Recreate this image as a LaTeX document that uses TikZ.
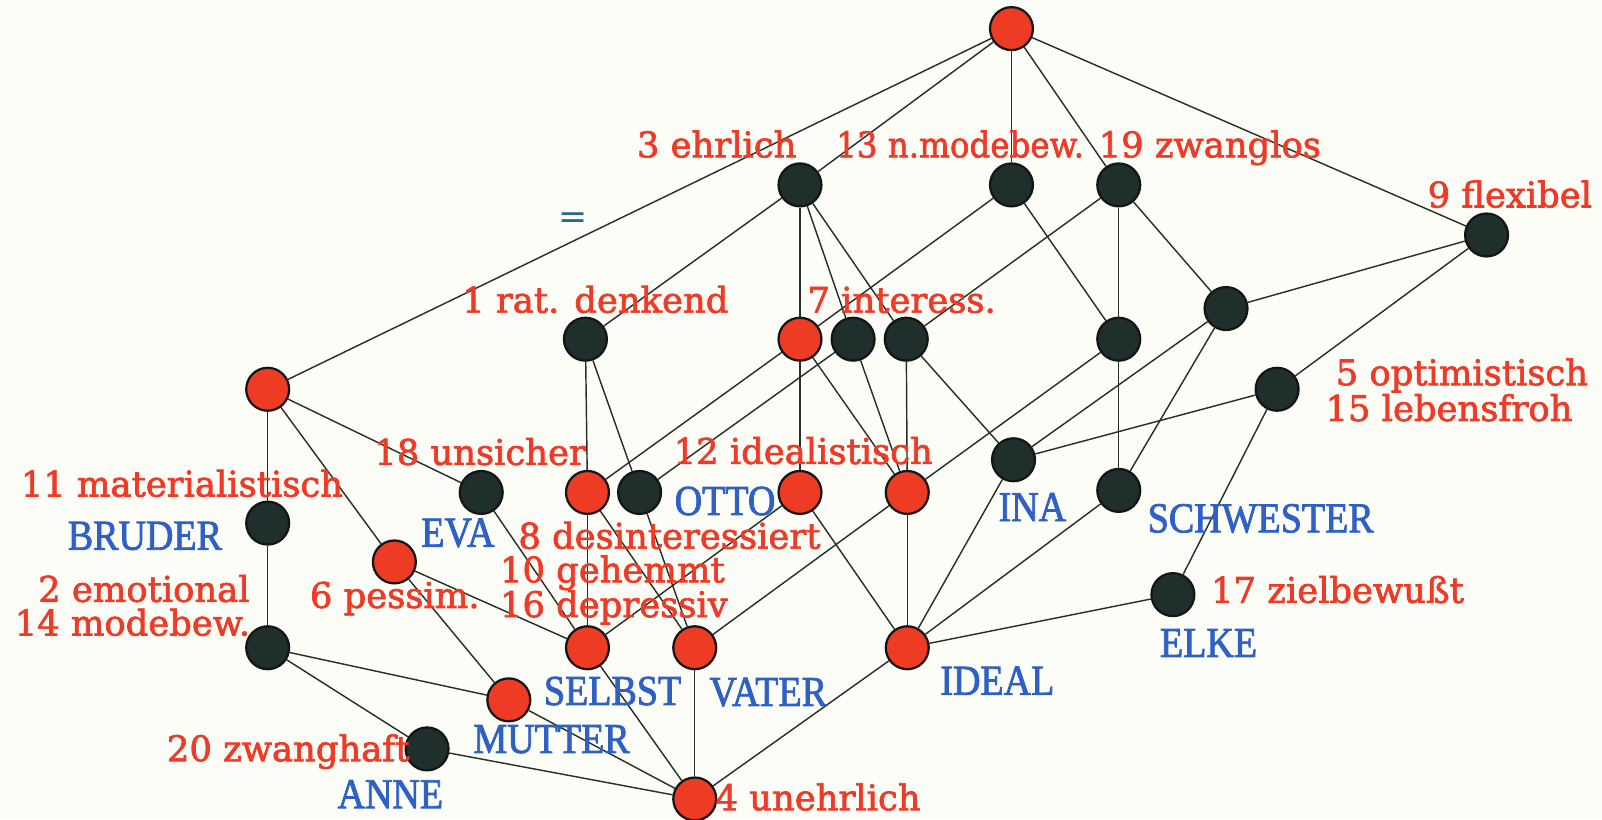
\documentclass[tikz,border=0pt]{standalone}
\usepackage{fontspec}
\newfontfamily\attrfont[FakeBold=2]{DejaVu Serif}
\newfontfamily\objfont[FakeBold=2]{Liberation Serif}
\newfontfamily\symfont{DejaVu Sans}
\newcommand\tallcaps[1]{\scalebox{1}[1.12]{#1}}
\newcommand\narrowtext[1]{\scalebox{0.92}[1]{#1}}
\definecolor{paper}{HTML}{FDFDF7}
\definecolor{nodered}{HTML}{EE3B24}
\definecolor{nodedark}{HTML}{1F2F2B}
\definecolor{rimcol}{HTML}{151515}
\definecolor{edgecol}{HTML}{263029}
\definecolor{labelred}{HTML}{EE3B28}
\definecolor{labelblue}{HTML}{2F60C6}
\definecolor{eqcol}{HTML}{2D6A80}
\pgfdeclarelayer{paperlayer}
\pgfdeclarelayer{edges}
\pgfsetlayers{paperlayer,edges,main}
\tikzset{
  concept/.style={circle, draw=rimcol, line width=1.1pt, minimum size=21pt, inner sep=0pt},
  rednode/.style={concept, fill=nodered},
  darknode/.style={concept, fill=nodedark},
  con/.style={draw=edgecol, line width=0.7pt},
  attr/.style={text=labelred, font=\attrfont\fontsize{17.3}{20}\selectfont, anchor=base west, inner sep=0pt},
  obj/.style={text=labelblue, font=\objfont\fontsize{18.6}{20}\selectfont, anchor=base west, inner sep=0pt},
}
\begin{document}
\begin{tikzpicture}[x=0.5pt,y=-0.5pt]
\begin{pgfonlayer}{paperlayer}
\fill[paper] (0,0) rectangle (1568,802);
\end{pgfonlayer}
\useasboundingbox (0,0) rectangle (1568,802);

% lattice concepts
\node[rednode]  (T)   at (990,28)  {};
\node[darknode] (A3)  at (783,181) {};
\node[darknode] (A13) at (990,181) {};
\node[darknode] (A19) at (1095,181) {};
\node[darknode] (A9)  at (1455,230) {};
\node[darknode] (A1)  at (573,332) {};
\node[rednode]  (A7)  at (783,332) {};
\node[darknode] (B2)  at (835,332) {};
\node[darknode] (B3)  at (887,332) {};
\node[darknode] (C1)  at (1095,332) {};
\node[darknode] (C2)  at (1200,302) {};
\node[darknode] (A5)  at (1250,381) {};
\node[rednode]  (L)   at (262,381) {};
\node[darknode] (BR)  at (262,512) {};
\node[darknode] (EV)  at (471,482) {};
\node[rednode]  (R18) at (575,482) {};
\node[darknode] (OT)  at (626,482) {};
\node[rednode]  (R12) at (783,482) {};
\node[rednode]  (R2)  at (888,482) {};
\node[darknode] (IN)  at (992,450) {};
\node[darknode] (SW)  at (1095,480) {};
\node[darknode] (EL)  at (1148,582) {};
\node[rednode]  (P6)  at (386,550) {};
\node[darknode] (M14) at (262,634) {};
\node[rednode]  (SE)  at (575,634) {};
\node[rednode]  (VA)  at (680,634) {};
\node[rednode]  (ID)  at (888,634) {};
\node[rednode]  (MU)  at (498,685) {};
\node[darknode] (AN)  at (418,733) {};
\node[rednode]  (BOT) at (680,782) {};

% attribute labels
\node[attr] (l3)  at (623,154)  {3 ehrlich};
\node[attr] (l13) at (818,154)  {\narrowtext{13 n.modebew.}};
\node[attr] (l19) at (1075,154) {19 zwanglos};
\node[attr] (l9)  at (1397,203) {9 flexibel};
\node[attr] (l1)  at (452,306)  {1 rat. denkend};
\node[attr] (l7)  at (790,306)  {7 interess.};
\node[attr] (l5)  at (1307,377) {5 optimistisch};
\node[attr] (l15) at (1297,412) {15 lebensfroh};
\node[attr] (l18) at (366,455)  {18 unsicher};
\node[attr] (l12) at (659,454)  {12 idealistisch};
\node[attr] (l11) at (20,486)   {11 materialistisch};
\node[attr] (l8)  at (507,537)  {8 desinteressiert};
\node[attr] (l10) at (489,570)  {10 gehemmt};
\node[attr] (l16) at (489,604)  {16 depressiv};
\node[attr] (l2)  at (37,589)   {2 emotional};
\node[attr] (l14) at (14,622)   {14 modebew.};
\node[attr] (l6)  at (303,595)  {6 pessim.};
\node[attr] (l17) at (1185,590) {17 zielbewußt};
\node[attr] (l20) at (163,745)  {20 zwanghaft};
\node[attr] (l4)  at (700,793)  {4 unehrlich};

% object labels
\node[obj] (oBR) at (66,538)   {\tallcaps{BRUDER}};
\node[obj] (oEV) at (412,535)  {\tallcaps{EVA}};
\node[obj] (oOT) at (660,504)  {\tallcaps{OTTO}};
\node[obj] (oIN) at (977,510)  {\tallcaps{INA}};
\node[obj] (oSW) at (1123,521) {\tallcaps{SCHWESTER}};
\node[obj] (oEL) at (1135,643) {\tallcaps{ELKE}};
\node[obj] (oID) at (920,680)  {\tallcaps{IDEAL}};
\node[obj] (oSE) at (532,690)  {\tallcaps{SELBST}};
\node[obj] (oVA) at (694,691)  {\tallcaps{VATER}};
\node[obj] (oMU) at (463,737)  {\tallcaps{MUTTER}};
\node[obj] (oAN) at (330,791)  {\tallcaps{ANNE}};

\node[text=eqcol, font=\symfont\fontsize{17}{20}\selectfont, inner sep=0pt] (eq) at (561,216) {=};

% lattice lines
\begin{pgfonlayer}{edges}
\draw[con] (T) -- (L);   \draw[con] (T) -- (A3);  \draw[con] (T) -- (A13);
\draw[con] (T) -- (A19); \draw[con] (T) -- (A9);
\draw[con] (A3) -- (A1); \draw[con] (A3) -- (A7); \draw[con] (A3) -- (B2); \draw[con] (A3) -- (B3);
\draw[con] (A13) -- (A7); \draw[con] (A13) -- (C1);
\draw[con] (A19) -- (B3); \draw[con] (A19) -- (C1); \draw[con] (A19) -- (C2);
\draw[con] (A9) -- (C2); \draw[con] (A9) -- (A5);
\draw[con] (A1) -- (R18); \draw[con] (A1) -- (OT);
\draw[con] (A7) -- (R18); \draw[con] (A7) -- (R12); \draw[con] (A7) -- (R2);
\draw[con] (B2) -- (OT); \draw[con] (B2) -- (R2);
\draw[con] (B3) -- (R2); \draw[con] (B3) -- (IN);
\draw[con] (C1) -- (R2); \draw[con] (C1) -- (SW);
\draw[con] (C2) -- (IN); \draw[con] (C2) -- (SW);
\draw[con] (A5) -- (IN); \draw[con] (A5) -- (EL);
\draw[con] (L) -- (BR); \draw[con] (L) -- (EV); \draw[con] (L) -- (P6);
\draw[con] (BR) -- (M14);
\draw[con] (EV) -- (SE);
\draw[con] (R18) -- (SE); \draw[con] (R18) -- (VA);
\draw[con] (OT) -- (VA);
\draw[con] (R12) -- (SE); \draw[con] (R12) -- (ID);
\draw[con] (R2) -- (VA); \draw[con] (R2) -- (ID);
\draw[con] (IN) -- (ID); \draw[con] (SW) -- (ID); \draw[con] (EL) -- (ID);
\draw[con] (P6) -- (SE); \draw[con] (P6) -- (MU);
\draw[con] (M14) -- (MU); \draw[con] (M14) -- (AN);
\draw[con] (SE) -- (BOT); \draw[con] (VA) -- (BOT); \draw[con] (ID) -- (BOT);
\draw[con] (MU) -- (BOT); \draw[con] (AN) -- (BOT);
\end{pgfonlayer}
\end{tikzpicture}
\end{document}
